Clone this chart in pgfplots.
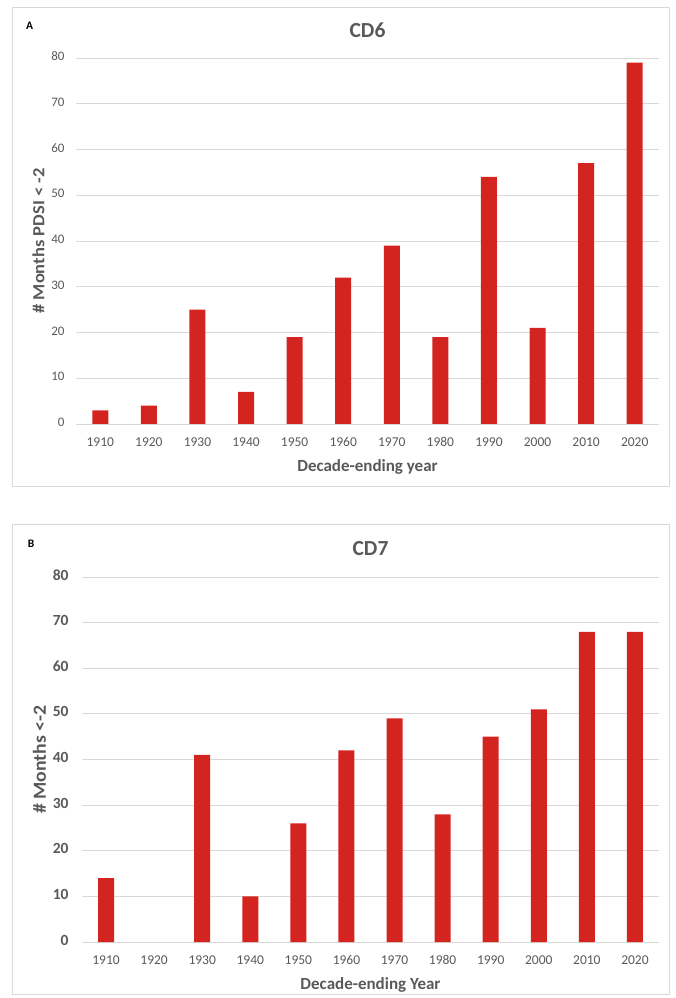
\documentclass[border=0pt]{standalone}
\usepackage{graphicx}
\usepackage{pgfplots}
\pgfplotsset{compat=1.18}
\usepackage{fontspec}
\setmainfont{Carlito}
\definecolor{barred}{HTML}{D42420}
\definecolor{txt}{HTML}{595959}
\definecolor{grd}{HTML}{D9D9D9}
\definecolor{frm}{HTML}{D9D9D9}
\pgfplotsset{
  mybar/.style={
    scale only axis, clip=false,
    ymin=0, ymax=80, ytick={0,10,...,80},
    xmin=-0.5, xmax=11.5, xtick={0,...,11},
    xticklabels={1910,1920,1930,1940,1950,1960,1970,1980,1990,2000,2010,2020},
    ymajorgrids, grid style={grd, line width=0.9pt},
    axis line style={draw=none}, major tick length=0pt,
    ybar, bar width=16pt,
    typeset ticklabels with strut,
    /pgf/number format/assume math mode=true,
    xticklabel style={text=txt, font=\fontsize{13.5}{13.5}\selectfont, yshift=-10pt},
    title style={text=txt, font=\bfseries\fontsize{21.5}{21.5}\selectfont},
    xlabel style={text=txt, font=\bfseries\fontsize{17}{17}\selectfont, yshift=-2pt},
    ylabel style={text=txt},
  }
}
\begin{document}
\begin{tikzpicture}[x=1pt,y=1pt]
\path (0,0) rectangle (676,998);
\draw[frm, line width=1pt] (12.5,511) rectangle (669.5,990);
\draw[frm, line width=1pt] (12.5,3) rectangle (669.5,473);
\node[font=\bfseries\fontsize{11.5}{11.5}\selectfont] at (29.5,972.5) {A};
\node[font=\bfseries\fontsize{11.5}{11.5}\selectfont] at (31,454.5) {B};

\begin{axis}[mybar, at={(76pt,574pt)}, anchor=south west,
  width=583pt, height=366pt,
  title={CD6}, title style={yshift=11pt},
  xlabel={Decade-ending year},
  ylabel={\scalebox{1.09}[1]{\bfseries\fontsize{17}{17}\selectfont \# Months PDSI < -2}},
  yticklabel style={text=txt, font=\fontsize{13}{13}\selectfont, xshift=-8pt},
]
\addplot[fill=barred, draw=none] coordinates {(0,3) (1,4) (2,25) (3,7) (4,19) (5,32) (6,39) (7,19) (8,54) (9,21) (10,57) (11,79)};
\end{axis}

\begin{axis}[mybar, at={(82pt,56pt)}, anchor=south west,
  width=577pt, height=365pt,
  title={CD7}, title style={yshift=12pt},
  xlabel={Decade-ending Year},
  ylabel={\scalebox{1.07}[1]{\bfseries\fontsize{18.5}{18.5}\selectfont \# Months <-2}},
  yticklabel style={text=txt, font=\bfseries\fontsize{15.5}{15.5}\selectfont, xshift=-10pt},
]
% 1920 has the value 0 and draws no bar
\addplot[fill=barred, draw=none] coordinates {(0,14) (2,41) (3,10) (4,26) (5,42) (6,49) (7,28) (8,45) (9,51) (10,68) (11,68)};
\end{axis}
\end{tikzpicture}
\end{document}
